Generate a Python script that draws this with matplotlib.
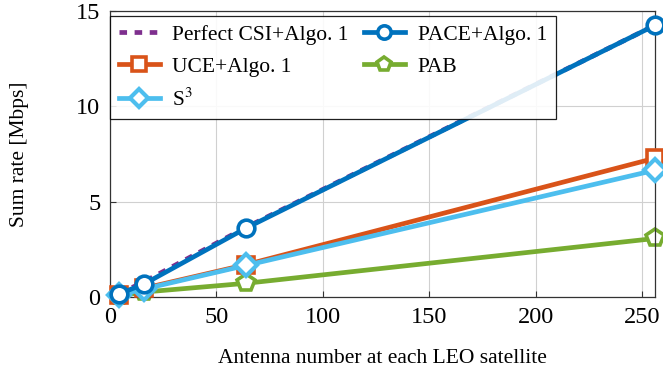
import numpy as np
from matplotlib import pyplot as plt

plt.rcParams['font.family'] = ['Liberation Serif', 'DejaVu Serif']
plt.rcParams['mathtext.fontset'] = 'stix'

# data
antennas = [4, 16, 64, 256]
perfect = [0.16, 0.80, 3.66, 14.25]
pace = [0.15, 0.68, 3.62, 14.25]
uce = [0.10, 0.46, 1.70, 7.28]
s3 = [0.10, 0.42, 1.66, 6.65]
pab = [0.06, 0.26, 0.72, 3.07]

c_perfect = '#7E2F8E'
c_pace = '#0072BD'
c_uce = '#D95319'
c_s3 = '#4DBEEE'
c_pab = '#77AC30'

fig = plt.figure(figsize=(6.63, 3.72), dpi=100)
ax = fig.add_axes([110/663, 1 - 297/372, 545/663, 286/372])

lw = 3.4
ms = 12
mew = 2.6
h1, = ax.plot(antennas, perfect, color=c_perfect, lw=lw, ls=(0, (1.6, 1.6)), zorder=4,
              label='Perfect CSI+Algo. 1')
h2, = ax.plot(antennas, uce, color=c_uce, lw=lw, marker='s', ms=ms, mew=mew, mfc='white',
              zorder=3, clip_on=False, label='UCE+Algo. 1')
h3, = ax.plot(antennas, s3, color=c_s3, lw=lw, marker='D', ms=ms - 1, mew=mew + 0.4, mfc='white',
              zorder=3.5, clip_on=False, label='S$^3$')
h4, = ax.plot(antennas, pace, color=c_pace, lw=lw, marker='o', ms=ms, mew=mew, mfc='white',
              zorder=5, clip_on=False, label='PACE+Algo. 1')
h5, = ax.plot(antennas, pab, color=c_pab, lw=lw, marker='p', ms=ms + 1, mew=mew, mfc='white',
              zorder=2, clip_on=False, label='PAB')

ax.set_xlim(0, 256)
ax.set_ylim(0, 15)
ax.set_xticks([0, 50, 100, 150, 200, 250])
ax.set_yticks([0, 5, 10, 15])
ax.tick_params(direction='in', labelsize=17.5, length=4, color='#333333')
ax.tick_params(axis='x', pad=7)
ax.tick_params(axis='y', pad=7)
ax.grid(True, color='#d0d0d0', lw=0.8)
ax.set_axisbelow(True)
for s in ax.spines.values():
    s.set_color('#333333')
    s.set_linewidth(0.9)

ax.set_xlabel('Antenna number at each LEO satellite', fontsize=15.5, labelpad=15)
ax.set_ylabel('Sum rate [Mbps]', fontsize=15.5, labelpad=34)

leg = ax.legend(handles=[h1, h2, h3, h4, h5], ncol=2, loc='upper left',
                bbox_to_anchor=(0.0, 1 - 5/286), fontsize=15.5, frameon=True, fancybox=False,
                edgecolor='black', framealpha=0.88, borderaxespad=0.0, handlelength=1.9,
                columnspacing=0.7, labelspacing=0.55, handletextpad=0.6, borderpad=0.4,
                markerscale=0.8)
leg.set_zorder(10)
leg.get_frame().set_linewidth(0.9)

fig.savefig('out.png', dpi=100)
